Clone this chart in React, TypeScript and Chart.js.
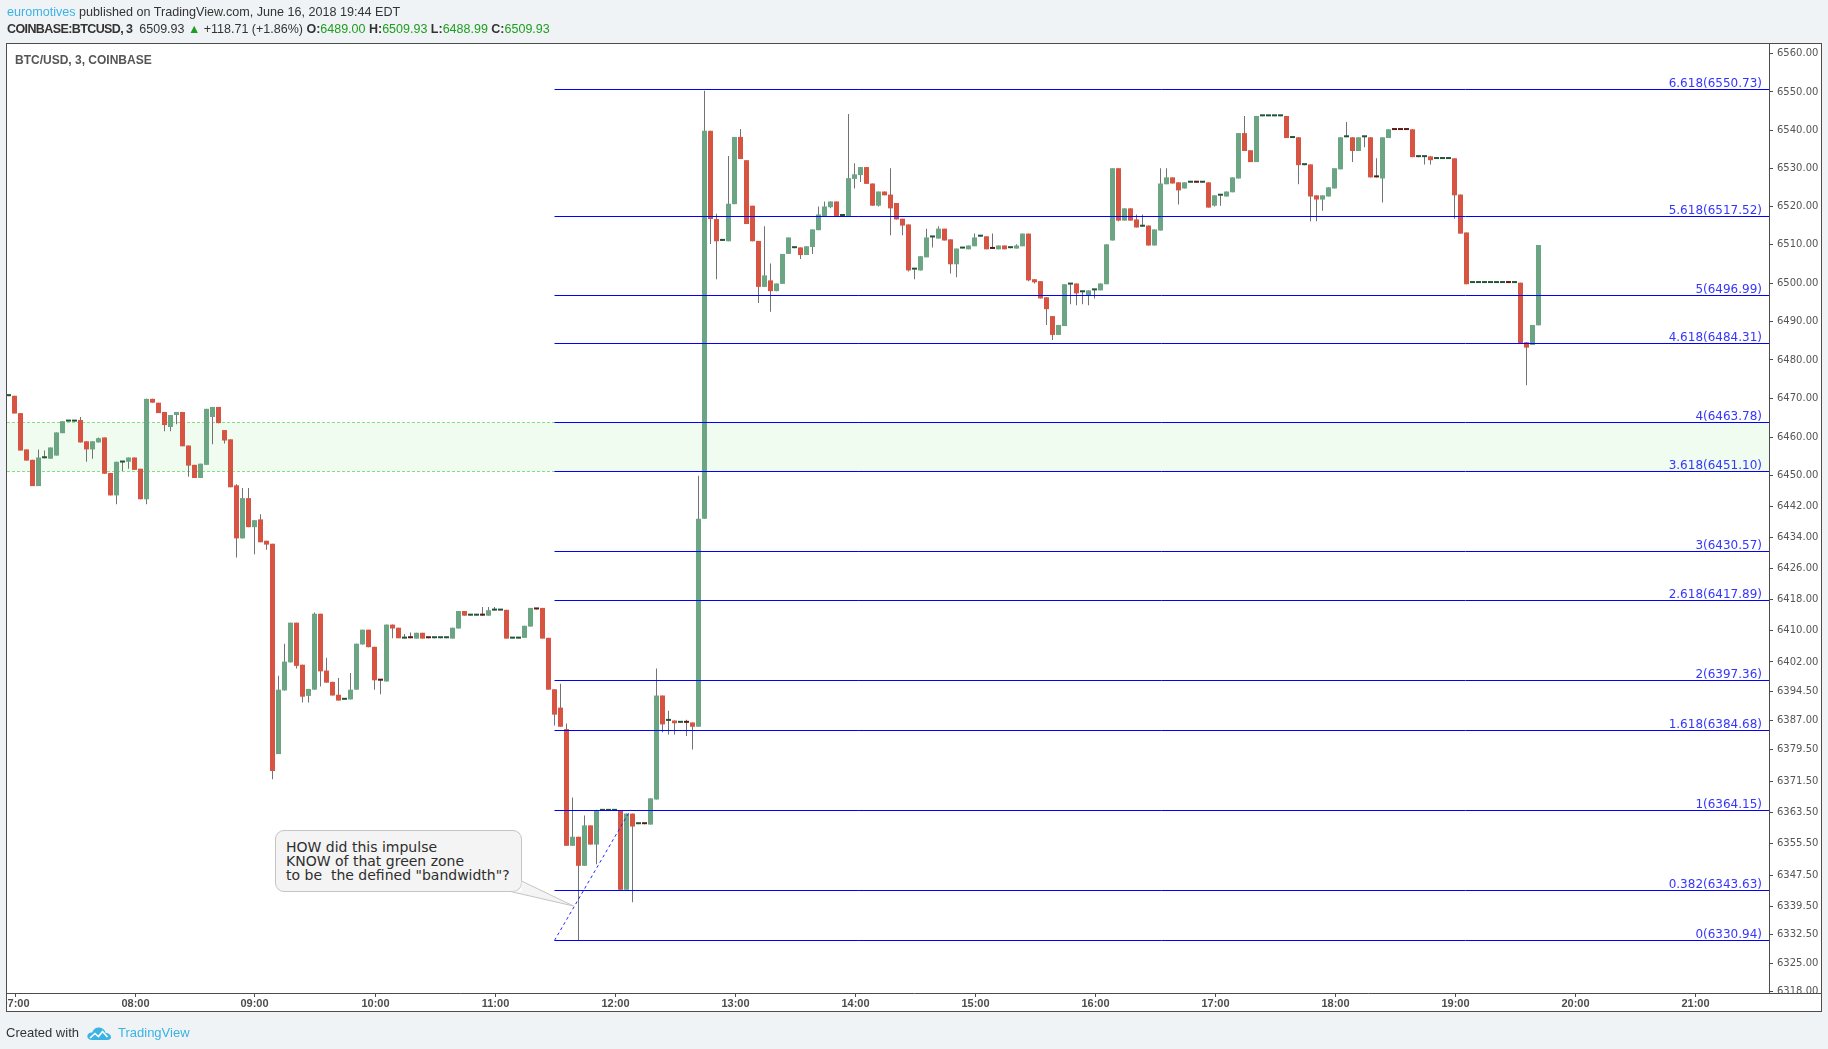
import React, { useEffect, useRef } from "react";
import { Chart, registerables } from "chart.js";

Chart.register(...registerables);

// ---------------- data ----------------
const firstBarTime = "06:57";
const barMinutes = 3;

const opens = [
  6470.6, 6470.7, 6466.2, 6456.8, 6454.1, 6447.3, 6454.5, 6454.4, 6455.2, 6461.0,
  6464.0, 6464.0, 6464.4, 6458.9, 6456.8, 6458.6, 6459.9, 6450.7, 6444.9, 6453.4,
  6453.6, 6454.7, 6451.8, 6443.9, 6469.9, 6468.9, 6466.5, 6462.6, 6465.7, 6466.5,
  6457.8, 6452.8, 6449.4, 6452.8, 6465.2, 6467.8, 6461.8, 6459.4, 6447.5, 6433.8,
  6444.2, 6436.7, 6438.7, 6433.2, 6432.4, 6378.4, 6394.7, 6401.9, 6412.1, 6401.3,
  6393.3, 6394.9, 6414.4, 6399.8, 6396.9, 6393.6, 6392.3, 6392.4, 6394.9, 6406.5,
  6410.3, 6405.9, 6397.3, 6397.0, 6411.6, 6410.8, 6408.0, 6408.2, 6408.0, 6409.5,
  6408.2, 6408.1, 6408.1, 6408.1, 6408.0, 6410.6, 6415.1, 6413.9, 6413.9, 6414.0,
  6413.9, 6415.2, 6415.2, 6415.4, 6408.0, 6408.0, 6408.2, 6411.1, 6415.9, 6415.9,
  6408.2, 6395.0, 6390.3, 6384.8, 6355.0, 6357.3, 6349.9, 6360.2, 6355.3, 6363.9,
  6363.9, 6363.9, 6364.0, 6343.8, 6363.2, 6360.5, 6360.6, 6360.4, 6366.8, 6393.4,
  6386.9, 6387.0, 6386.4, 6386.5, 6386.5, 6385.4, 6438.9, 6539.8, 6516.7, 6511.0,
  6510.9, 6520.6, 6538.2, 6532.1, 6520.2, 6511.0, 6499.0, 6500.7, 6497.9, 6499.8,
  6507.6, 6509.1, 6509.3, 6507.3, 6509.4, 6513.8, 6517.5, 6519.8, 6521.3, 6517.5,
  6517.4, 6527.2, 6528.2, 6530.3, 6526.0, 6520.2, 6523.9, 6523.1, 6520.9, 6516.8,
  6515.3, 6503.5, 6503.3, 6506.7, 6511.9, 6511.6, 6514.2, 6511.4, 6504.9, 6509.0,
  6508.8, 6509.6, 6512.1, 6512.2, 6509.0, 6508.8, 6509.8, 6509.1, 6509.0, 6509.6,
  6512.9, 6501.0, 6500.5, 6496.3, 6491.4, 6486.5, 6488.8, 6499.6, 6499.9, 6497.6,
  6496.8, 6498.1, 6498.1, 6499.7, 6511.1, 6530.0, 6516.3, 6519.5, 6516.6, 6514.7,
  6515.0, 6509.8, 6513.7, 6525.8, 6527.6, 6526.3, 6524.7, 6526.2, 6526.3, 6526.2,
  6526.3, 6520.2, 6522.8, 6522.6, 6523.7, 6527.3, 6539.2, 6534.7, 6531.6, 6543.6,
  6543.6, 6543.6, 6543.6, 6543.7, 6537.9, 6538.1, 6530.8, 6531.0, 6522.9, 6521.8,
  6522.6, 6524.7, 6529.7, 6538.1, 6538.1, 6534.5, 6538.1, 6538.1, 6527.7, 6527.3,
  6537.9, 6540.1, 6540.1, 6540.1, 6540.2, 6532.9, 6532.9, 6533.1, 6532.4, 6532.4,
  6532.4, 6532.6, 6523.1, 6513.2, 6500.0, 6500.0, 6500.0, 6500.0, 6500.0, 6500.0,
  6500.1, 6500.0, 6500.1, 6484.6, 6483.9, 6489.0,
];

const highs = [
  6470.8, 6470.7, 6466.2, 6456.8, 6454.1, 6456.8, 6456.5, 6457.3, 6461.2, 6464.1,
  6464.1, 6464.3, 6465.2, 6458.9, 6458.9, 6459.9, 6459.9, 6450.7, 6453.6, 6453.7,
  6454.7, 6454.7, 6451.8, 6469.9, 6469.9, 6468.9, 6466.5, 6465.7, 6466.5, 6466.5,
  6457.8, 6452.8, 6453.1, 6467.3, 6467.8, 6467.8, 6461.8, 6459.4, 6447.8, 6446.8,
  6446.8, 6438.5, 6440.0, 6433.2, 6432.4, 6398.5, 6406.7, 6412.1, 6412.1, 6401.3,
  6395.1, 6414.7, 6414.4, 6403.1, 6396.9, 6397.9, 6392.4, 6399.2, 6406.7, 6410.3,
  6410.3, 6405.9, 6397.3, 6411.6, 6411.6, 6410.8, 6409.2, 6409.6, 6409.5, 6409.5,
  6408.2, 6408.2, 6408.2, 6408.2, 6410.8, 6415.1, 6415.1, 6414.0, 6414.0, 6416.1,
  6416.1, 6416.1, 6415.3, 6415.4, 6408.1, 6408.4, 6411.3, 6415.9, 6415.9, 6415.9,
  6408.2, 6395.0, 6396.4, 6386.2, 6367.3, 6357.3, 6362.7, 6360.2, 6364.2, 6364.0,
  6364.0, 6364.0, 6364.0, 6363.2, 6363.2, 6360.6, 6360.6, 6367.1, 6400.3, 6393.4,
  6389.5, 6387.0, 6386.5, 6387.2, 6386.5, 6450.0, 6550.3, 6539.8, 6518.1, 6511.5,
  6533.2, 6538.2, 6540.3, 6532.1, 6520.2, 6511.0, 6514.8, 6505.1, 6499.9, 6507.6,
  6511.9, 6509.2, 6509.3, 6509.6, 6514.0, 6520.0, 6521.3, 6521.3, 6521.3, 6517.6,
  6544.2, 6531.3, 6530.3, 6530.3, 6526.0, 6523.9, 6523.9, 6530.0, 6520.9, 6516.8,
  6515.3, 6503.6, 6507.0, 6514.2, 6512.0, 6514.8, 6514.2, 6511.4, 6509.0, 6509.1,
  6509.8, 6512.9, 6512.2, 6512.2, 6512.9, 6509.8, 6509.8, 6509.2, 6510.1, 6512.9,
  6512.9, 6501.0, 6500.5, 6496.3, 6491.4, 6489.1, 6499.7, 6499.7, 6499.9, 6497.7,
  6498.1, 6498.2, 6499.9, 6510.1, 6530.0, 6530.0, 6519.5, 6519.5, 6517.9, 6517.9,
  6515.0, 6514.0, 6530.0, 6530.0, 6527.6, 6526.3, 6526.3, 6526.3, 6526.3, 6526.3,
  6526.3, 6522.9, 6522.9, 6523.9, 6527.6, 6539.2, 6543.7, 6534.7, 6543.7, 6543.7,
  6543.7, 6543.7, 6543.7, 6543.7, 6538.0, 6538.1, 6530.9, 6531.0, 6522.9, 6522.9,
  6525.0, 6530.0, 6538.1, 6542.1, 6538.1, 6538.1, 6538.2, 6538.1, 6532.6, 6538.1,
  6540.2, 6540.1, 6540.1, 6540.1, 6540.2, 6533.0, 6533.0, 6533.1, 6532.5, 6532.5,
  6532.5, 6532.6, 6523.1, 6513.2, 6500.1, 6500.1, 6500.1, 6500.1, 6500.1, 6500.1,
  6500.1, 6500.1, 6500.1, 6484.6, 6489.1, 6509.93,
];

const lows = [
  6470.6, 6466.1, 6456.5, 6453.9, 6447.3, 6447.3, 6454.5, 6454.4, 6455.2, 6461.0,
  6464.0, 6464.0, 6458.6, 6453.6, 6454.4, 6458.6, 6450.5, 6444.9, 6442.6, 6451.2,
  6451.8, 6451.5, 6443.9, 6442.6, 6468.9, 6466.2, 6461.5, 6461.5, 6463.3, 6457.6,
  6449.7, 6449.4, 6449.4, 6452.8, 6458.1, 6463.6, 6458.3, 6447.0, 6428.9, 6433.8,
  6436.7, 6429.7, 6432.8, 6430.9, 6372.0, 6378.4, 6394.7, 6401.9, 6400.3, 6391.6,
  6391.6, 6394.9, 6395.7, 6396.7, 6393.4, 6392.1, 6392.3, 6392.4, 6394.9, 6406.5,
  6405.8, 6394.9, 6393.7, 6397.0, 6408.1, 6408.1, 6408.0, 6408.1, 6408.0, 6408.0,
  6408.1, 6408.1, 6408.1, 6408.1, 6408.0, 6410.6, 6413.9, 6413.9, 6413.9, 6413.9,
  6413.9, 6415.2, 6415.2, 6408.0, 6408.0, 6408.0, 6408.2, 6411.1, 6415.5, 6408.0,
  6394.9, 6385.7, 6385.4, 6355.0, 6355.0, 6330.9, 6349.9, 6355.3, 6350.3, 6363.9,
  6363.9, 6363.9, 6343.8, 6343.8, 6340.6, 6360.5, 6360.5, 6360.4, 6366.8, 6384.0,
  6383.4, 6383.4, 6386.4, 6383.0, 6379.6, 6385.4, 6438.9, 6510.2, 6501.0, 6511.0,
  6510.9, 6520.6, 6532.4, 6515.4, 6510.9, 6494.8, 6499.0, 6492.5, 6497.9, 6499.8,
  6507.6, 6509.1, 6506.3, 6507.3, 6507.6, 6513.8, 6517.5, 6519.5, 6517.4, 6517.5,
  6517.4, 6524.7, 6526.4, 6525.9, 6520.2, 6520.0, 6522.9, 6512.5, 6516.6, 6512.5,
  6503.0, 6501.0, 6503.3, 6506.7, 6509.3, 6511.6, 6511.1, 6502.5, 6501.5, 6509.0,
  6508.8, 6509.6, 6512.1, 6508.8, 6508.9, 6508.8, 6508.8, 6509.1, 6509.0, 6509.6,
  6500.5, 6499.9, 6496.0, 6489.1, 6485.2, 6486.5, 6488.8, 6494.5, 6494.2, 6494.5,
  6494.2, 6496.0, 6498.1, 6499.7, 6511.1, 6516.1, 6516.3, 6516.3, 6514.5, 6514.7,
  6509.8, 6509.8, 6513.7, 6525.8, 6526.0, 6520.5, 6524.7, 6526.2, 6526.2, 6526.2,
  6519.7, 6520.0, 6520.2, 6522.6, 6523.7, 6527.3, 6534.5, 6531.6, 6531.6, 6543.6,
  6543.6, 6543.6, 6543.6, 6537.9, 6537.9, 6525.8, 6530.8, 6516.1, 6516.1, 6518.9,
  6522.6, 6524.7, 6529.7, 6538.1, 6531.6, 6534.5, 6535.5, 6527.6, 6527.6, 6521.0,
  6537.9, 6540.0, 6540.0, 6540.0, 6532.9, 6532.9, 6531.0, 6531.0, 6532.4, 6532.4,
  6532.4, 6516.8, 6512.9, 6499.7, 6500.0, 6500.0, 6500.0, 6500.0, 6500.0, 6500.0,
  6500.0, 6500.0, 6484.3, 6473.4, 6483.9, 6488.99,
];

const closes = [
  6470.8, 6466.1, 6456.5, 6453.9, 6447.3, 6454.7, 6454.6, 6457.3, 6461.2, 6464.1,
  6464.1, 6464.3, 6458.6, 6456.8, 6458.9, 6459.7, 6450.5, 6444.9, 6453.6, 6453.7,
  6454.7, 6451.5, 6443.9, 6469.9, 6468.9, 6466.2, 6463.1, 6465.7, 6466.5, 6457.6,
  6452.6, 6449.4, 6453.1, 6467.3, 6467.8, 6463.6, 6459.1, 6447.0, 6433.8, 6444.2,
  6436.7, 6438.5, 6432.8, 6432.2, 6374.1, 6394.9, 6402.1, 6412.1, 6401.0, 6393.1,
  6395.1, 6414.4, 6399.6, 6396.7, 6393.4, 6392.1, 6392.4, 6394.9, 6406.7, 6410.3,
  6405.8, 6397.3, 6397.2, 6411.6, 6410.6, 6408.1, 6408.2, 6408.1, 6409.5, 6408.0,
  6408.1, 6408.2, 6408.2, 6408.2, 6410.8, 6415.1, 6413.9, 6414.0, 6414.0, 6413.9,
  6415.3, 6415.3, 6415.3, 6408.0, 6408.1, 6408.4, 6411.3, 6415.9, 6415.5, 6408.0,
  6394.9, 6388.5, 6385.4, 6355.0, 6357.3, 6349.9, 6360.2, 6355.3, 6364.0, 6364.0,
  6364.0, 6364.0, 6343.8, 6363.2, 6359.9, 6360.6, 6360.5, 6367.1, 6393.4, 6386.0,
  6387.3, 6386.3, 6386.5, 6386.4, 6385.4, 6438.9, 6539.8, 6516.7, 6510.9, 6511.1,
  6520.7, 6538.2, 6532.4, 6515.4, 6510.9, 6499.0, 6502.0, 6497.9, 6499.9, 6507.6,
  6511.9, 6509.2, 6507.3, 6509.6, 6514.0, 6517.9, 6520.0, 6521.3, 6517.4, 6517.6,
  6527.4, 6528.4, 6530.3, 6525.9, 6520.2, 6523.9, 6522.9, 6519.5, 6516.6, 6515.0,
  6503.3, 6503.6, 6507.0, 6511.9, 6512.0, 6514.2, 6511.1, 6504.9, 6509.0, 6509.1,
  6509.8, 6511.9, 6512.2, 6508.8, 6508.9, 6509.8, 6508.8, 6509.2, 6509.8, 6512.9,
  6500.7, 6500.2, 6496.0, 6493.2, 6486.5, 6489.1, 6499.7, 6499.7, 6497.3, 6497.7,
  6498.1, 6498.2, 6499.9, 6510.1, 6530.0, 6516.3, 6519.5, 6516.3, 6514.5, 6514.8,
  6509.8, 6514.0, 6526.0, 6527.6, 6526.0, 6524.2, 6526.3, 6526.3, 6526.2, 6526.3,
  6519.7, 6522.9, 6522.9, 6523.9, 6527.6, 6539.2, 6534.5, 6531.6, 6543.7, 6543.7,
  6543.7, 6543.7, 6543.7, 6537.9, 6538.0, 6530.8, 6530.9, 6522.6, 6521.8, 6522.9,
  6525.0, 6530.0, 6538.1, 6538.2, 6534.5, 6538.1, 6538.2, 6527.6, 6527.6, 6538.1,
  6540.2, 6540.0, 6540.0, 6540.0, 6532.9, 6533.0, 6533.0, 6532.1, 6532.5, 6532.5,
  6532.5, 6522.9, 6512.9, 6499.7, 6500.1, 6500.1, 6500.1, 6500.1, 6500.1, 6500.1,
  6500.0, 6500.1, 6484.3, 6483.2, 6489.1, 6509.93,
];

const hourLabels = [
  "07:00", "08:00", "09:00", "10:00", "11:00", "12:00", "13:00", "14:00",
  "15:00", "16:00", "17:00", "18:00", "19:00", "20:00", "21:00",
];

const priceTicks = [
  6560, 6550, 6540, 6530, 6520, 6510, 6500, 6490, 6480, 6470, 6460, 6450,
  6442, 6434, 6426, 6418, 6410, 6402, 6394.5, 6387, 6379.5, 6371.5, 6363.5,
  6355.5, 6347.5, 6339.5, 6332.5, 6325, 6318,
];

const fibRatios = ["0", "0.382", "1", "1.618", "2", "2.618", "3", "3.618", "4", "4.618", "5", "5.618", "6.618"];
const fibPrices = [6330.94, 6343.63, 6364.15, 6384.68, 6397.36, 6417.89, 6430.57, 6451.10, 6463.78, 6484.31, 6496.99, 6517.52, 6550.73];
const fibStartTime = "11:30";
const trendTimes = ["11:30", "12:08"];
const trendPrices = [6330.94, 6364.15];
const zonePrices = [6451.10, 6463.78];

// ---------------- helpers / styles ----------------
const toMin = (t: string) => {
  const [h, m] = t.split(":").map(Number);
  return (h - 7) * 60 + m;
};

const UP = "#6ba583";
const DOWN = "#d75442";
const UP_DOJI = "#225437";
const DOWN_DOJI = "#5b1a13";
const WICK = "#737375";
const FRAME = "#4d4d4d";

const overlayPlugin = {
  id: "tvOverlay",
  beforeDraw(chart: any) {
    const { ctx, chartArea: a, scales } = chart;
    ctx.save();
    ctx.fillStyle = "#ffffff";
    ctx.fillRect(a.left, a.top, scales.y.right - a.left, scales.x.bottom - a.top);
    ctx.restore();
  },
  beforeDatasetsDraw(chart: any) {
    const { ctx, chartArea: a, scales } = chart;
    const y = scales.y;
    const top = y.getPixelForValue(zonePrices[1]);
    const bot = y.getPixelForValue(zonePrices[0]);
    ctx.save();
    ctx.fillStyle = "#effcef";
    ctx.fillRect(a.left, top, a.right - a.left, bot - top);
    ctx.strokeStyle = "#84de84";
    ctx.lineWidth = 1;
    ctx.setLineDash([3, 2]);
    [top, bot].forEach((p) => {
      const yy = Math.round(p) + 0.5;
      ctx.beginPath();
      ctx.moveTo(a.left, yy);
      ctx.lineTo(a.right, yy);
      ctx.stroke();
    });
    ctx.restore();
  },
  afterDatasetsDraw(chart: any) {
    const { ctx, chartArea: a, scales } = chart;
    const { x, y } = scales;
    ctx.save();
    ctx.beginPath();
    ctx.rect(a.left, a.top, a.right - a.left, a.bottom - a.top);
    ctx.clip();
    const x0 = x.getPixelForValue(toMin(fibStartTime));
    ctx.lineWidth = 1;
    ctx.font = '12px "DejaVu Sans", Verdana, sans-serif';
    ctx.textAlign = "right";
    ctx.textBaseline = "alphabetic";
    fibPrices.forEach((p, i) => {
      const yy = Math.round(y.getPixelForValue(p)) + 0.5;
      ctx.strokeStyle = "#0000ff";
      ctx.beginPath();
      ctx.moveTo(x0, yy);
      ctx.lineTo(a.right, yy);
      ctx.stroke();
      ctx.fillStyle = "#3535ff";
      ctx.fillText(`${fibRatios[i]}(${p.toFixed(2)})`, a.right - 7, yy - 2.5);
    });
    ctx.strokeStyle = "#2626ff";
    ctx.setLineDash([3, 3]);
    ctx.beginPath();
    ctx.moveTo(x.getPixelForValue(toMin(trendTimes[0])), y.getPixelForValue(trendPrices[0]));
    ctx.lineTo(x.getPixelForValue(toMin(trendTimes[1])), y.getPixelForValue(trendPrices[1]));
    ctx.stroke();
    ctx.restore();
  },
  afterDraw(chart: any) {
    const { ctx, chartArea: a, scales } = chart;
    const { x, y } = scales;
    ctx.save();
    // corner under the price axis
    ctx.fillStyle = "#ffffff";
    ctx.fillRect(a.right + 1, a.bottom + 1, y.right - a.right - 1, x.bottom - a.bottom - 1);
    // frame
    ctx.strokeStyle = FRAME;
    ctx.lineWidth = 1;
    ctx.strokeRect(a.left - 0.5, a.top - 0.5, y.right - a.left, x.bottom - a.top);
    ctx.beginPath();
    ctx.moveTo(a.left, a.bottom + 0.5);
    ctx.lineTo(y.right, a.bottom + 0.5);
    ctx.moveTo(a.right + 0.5, a.top);
    ctx.lineTo(a.right + 0.5, a.bottom);
    ctx.stroke();
    // time axis labels
    ctx.beginPath();
    ctx.rect(a.left, a.bottom + 1, a.right - a.left, x.bottom - a.bottom - 1);
    ctx.clip();
    ctx.font = 'bold 11px "Liberation Sans", Arial, sans-serif';
    ctx.fillStyle = FRAME;
    ctx.textAlign = "center";
    ctx.textBaseline = "middle";
    hourLabels.forEach((lbl) => {
      const px = Math.round(x.getPixelForValue(toMin(lbl))) + 0.5;
      ctx.beginPath();
      ctx.moveTo(px, a.bottom + 1);
      ctx.lineTo(px, a.bottom + 4);
      ctx.stroke();
      ctx.fillText(lbl, px, a.bottom + 10.5);
    });
    ctx.restore();
  },
};

function buildConfig(): any {
  const start = toMin(firstBarTime);
  const times = opens.map((_, i) => start + i * barMinutes);
  const bodies = opens.map((o, i) => ({ x: times[i], y: [o, closes[i]] }));
  const wicks = opens.map((_, i) => ({ x: times[i], y: [lows[i], highs[i]] }));
  const bodyColors = opens.map((o, i) => {
    const d = closes[i] - o;
    if (Math.abs(d) < 0.5) return d >= 0 ? UP_DOJI : DOWN_DOJI;
    return d > 0 ? UP : DOWN;
  });
  return {
    type: "bar",
    data: {
      datasets: [
        {
          label: "body",
          data: bodies,
          backgroundColor: bodyColors,
          barThickness: 5,
          minBarLength: 2,
          grouped: false,
          borderWidth: 0,
          inflateAmount: 0,
        },
        {
          label: "wick",
          data: wicks,
          backgroundColor: WICK,
          barThickness: 1,
          grouped: false,
          borderWidth: 0,
          inflateAmount: 0,
        },
      ],
    },
    options: {
      responsive: false,
      animation: false,
      devicePixelRatio: 1,
      events: [],
      layout: { padding: { left: 7, top: 44, right: 6, bottom: 37 } },
      plugins: { legend: { display: false }, tooltip: { enabled: false } },
      scales: {
        x: {
          type: "linear",
          min: -3.75,
          max: 877.25,
          offset: false,
          grid: { display: false },
          border: { display: false },
          ticks: { display: false },
          afterFit: (s: any) => {
            s.height = 19;
          },
        },
        y: {
          type: "logarithmic",
          position: "right",
          min: 6317.6,
          max: 6562.6,
          afterBuildTicks: (s: any) => {
            s.ticks = priceTicks.map((v) => ({ value: v }));
          },
          ticks: {
            autoSkip: false,
            padding: 4,
            color: "#555555",
            font: { family: '"DejaVu Sans", Verdana, sans-serif', size: 10 },
            callback: (v: any) => Number(v).toFixed(2),
          },
          grid: { drawOnChartArea: false, drawTicks: true, tickLength: 4, color: FRAME },
          border: { display: true, color: FRAME },
          afterFit: (s: any) => {
            s.width = 53;
          },
        },
      },
    },
    plugins: [overlayPlugin],
  };
}

export default function App() {
  const canvasRef = useRef<HTMLCanvasElement | null>(null);

  useEffect(() => {
    const chart = new Chart(canvasRef.current as HTMLCanvasElement, buildConfig());
    return () => chart.destroy();
  }, []);

  const sans = '"Liberation Sans", Arial, sans-serif';
  const green = "#1e9e1e";
  const last = opens.length - 1;

  return (
    <div
      style={{
        position: "absolute",
        left: 0,
        top: 0,
        width: 1828,
        height: 1049,
        overflow: "hidden",
        background: "#f0f3f6",
        fontFamily: sans,
        color: "#333",
      }}
    >
      <canvas ref={canvasRef} width={1828} height={1049} style={{ position: "absolute", left: 0, top: 0 }} />

      <div style={{ position: "absolute", left: 7, top: 3.5, fontSize: 12.6, lineHeight: "17px", whiteSpace: "pre" }}>
        <span style={{ color: "#3bb3e4" }}>euromotives</span>
        {" published on TradingView.com, June 16, 2018 19:44 EDT"}
      </div>
      <div style={{ position: "absolute", left: 7, top: 21, fontSize: 12.5, lineHeight: "17px", whiteSpace: "pre" }}>
        <b style={{ letterSpacing: "-0.6px" }}>COINBASE:BTCUSD, 3</b>
        {"  6509.93 "}
        <span style={{ color: green }}>▲</span>
        {" +118.71 (+1.86%) "}
        <b>O:</b>
        <span style={{ color: green }}>{opens[last].toFixed(2)}</span> <b>H:</b>
        <span style={{ color: green }}>{highs[last].toFixed(2)}</span> <b>L:</b>
        <span style={{ color: green }}>{lows[last].toFixed(2)}</span> <b>C:</b>
        <span style={{ color: green }}>{closes[last].toFixed(2)}</span>
      </div>

      <div
        style={{
          position: "absolute",
          left: 15,
          top: 52.5,
          fontSize: 12,
          fontWeight: 700,
          lineHeight: "15px",
          color: "#555",
          whiteSpace: "pre",
        }}
      >
        BTC/USD, 3, COINBASE
      </div>

      {/* callout */}
      <div
        style={{
          position: "absolute",
          left: 275,
          top: 830,
          width: 247,
          height: 62,
          boxSizing: "border-box",
          border: "1px solid #c4c4c4",
          borderRadius: 9,
          background: "#f4f4f4",
        }}
      />
      <svg
        width={1828}
        height={1049}
        style={{ position: "absolute", left: 0, top: 0, pointerEvents: "none" }}
      >
        <polygon points="521.5,881 573.5,906 510.5,891.5 521.5,891.5" fill="#f4f4f4" />
        <polyline points="521.5,881 573.5,906 510.5,891.5" fill="none" stroke="#c4c4c4" strokeWidth={1} />
      </svg>
      <div
        style={{
          position: "absolute",
          left: 286,
          top: 839.5,
          fontFamily: '"DejaVu Sans", Verdana, sans-serif',
          fontSize: 14,
          lineHeight: "14.2px",
          color: "#2e2e2e",
          whiteSpace: "pre",
        }}
      >
        {'HOW did this impulse\nKNOW of that green zone\nto be  the defined "bandwidth"?'}
      </div>

      {/* footer */}
      <div style={{ position: "absolute", left: 6, top: 1024, fontSize: 13, lineHeight: "17px", color: "#333" }}>
        Created with
      </div>
      <svg width={26} height={16} viewBox="0 0 26 16" style={{ position: "absolute", left: 86, top: 1025 }}>
        <path
          d="M6 15 C2 15 0.5 12 1.8 9.6 C2.8 7.8 4.6 7.2 6.2 7.6 C7.2 4.2 10.2 2.2 13.6 2.6 C17 3 19.2 5.4 19.6 8 C22.6 8 25 10 25 12.2 C25 14 23.6 15 21.6 15 Z"
          fill="#3bb3e4"
        />
        <path d="M4 13 L9 8.5 L12.5 11.5 L16.5 6.5 L21.5 12" stroke="#ffffff" strokeWidth={1.6} fill="none" />
      </svg>
      <div style={{ position: "absolute", left: 118, top: 1024, fontSize: 13, lineHeight: "17px", color: "#3bb3e4" }}>
        TradingView
      </div>
    </div>
  );
}
